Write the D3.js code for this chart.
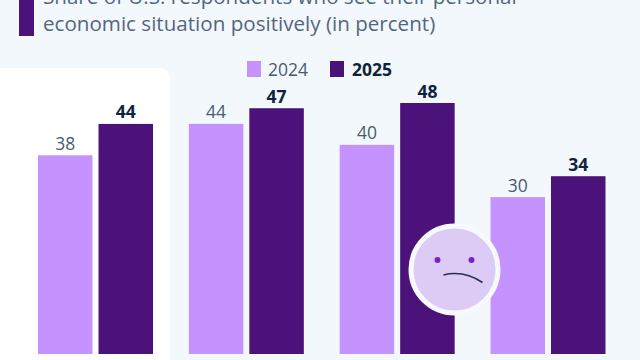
<!DOCTYPE html>
<html><head><meta charset="utf-8">
<script src="https://cdn.jsdelivr.net/npm/d3@7/dist/d3.min.js"></script>
<style>html,body{margin:0;padding:0;background:#f3f8fc;overflow:hidden}svg{display:block}text{font-family:"Open Sans",sans-serif}</style>
</head><body><svg id="c" width="640" height="360"></svg>
<script>
const groups = ["Group 1","Group 2","Group 3","Group 4"];
const seriesNames = ["2024","2025"];
const values2024 = [38,44,40,30];
const values2025 = [44,47,48,34];
const titleLines = ["Share of U.S. respondents who see their personal","economic situation positively (in percent)"];
const colors = ["#c493ff","#4b1279"];
const ink = "#0f2340", grey="#4a5a70", sub="#54667f";

const svg = d3.select("#c");
svg.append("path").attr("fill","#fff")
  .attr("d","M0,68H160a10,10 0 0 1 10,10V360H0Z");

// title
svg.append("rect").attr("x",19).attr("y",-5).attr("width",15).attr("height",41).attr("fill","#4b1279");
svg.selectAll("text.t").data(titleLines).join("text").attr("class","t")
  .attr("x",43).attr("y",(d,i)=>4+i*27).attr("font-size",20.6).attr("fill",sub).text(d=>d);

// legend
const lx=[247,330], tx=[268,352];
seriesNames.forEach((s,i)=>{
  svg.append("rect").attr("x",lx[i]).attr("y",61).attr("width",14).attr("height",16).attr("fill",colors[i]);
  svg.append("text").attr("x",tx[i]).attr("y",75.5).attr("font-size",17.5)
    .attr("font-weight",i?700:400).attr("fill",i?ink:grey).text(s);
});

// scales
const x0 = d3.scalePoint().domain(groups).range([95.5,548]);
const y = d3.scaleLinear().domain([0,48]).range([354,103]);
const bw = 54.5, off=[-57.5,3];
[values2024,values2025].forEach((vals,s)=>{
  const g = svg.append("g");
  g.selectAll("rect").data(vals).join("rect")
    .attr("x",(d,i)=>x0(groups[i])+off[s]).attr("y",d=>y(d))
    .attr("width",bw).attr("height",d=>354-y(d)).attr("fill",colors[s]);
  g.selectAll("text").data(vals).join("text")
    .attr("x",(d,i)=>x0(groups[i])+off[s]+bw/2).attr("y",d=>y(d)-5.5)
    .attr("text-anchor","middle").attr("font-size",17.5)
    .attr("font-weight",s?700:400).attr("fill",s?ink:grey).text(d=>d);
});

// face
const f = svg.append("g").attr("transform","translate(454.5,269.5)");
f.append("circle").attr("r",43.5).attr("fill","#dccbf4").attr("stroke","#f6f9fd").attr("stroke-width",5);
f.selectAll("circle.e").data([-17,17]).join("circle").attr("class","e")
  .attr("cx",d=>d).attr("cy",-9.5).attr("r",3).attr("fill","#7a22c8");
f.append("path").attr("d","M-11,5.5 C3,2 16,5 28,13").attr("fill","none").attr("stroke","#26304f").attr("stroke-width",1.6);
</script></body></html>
